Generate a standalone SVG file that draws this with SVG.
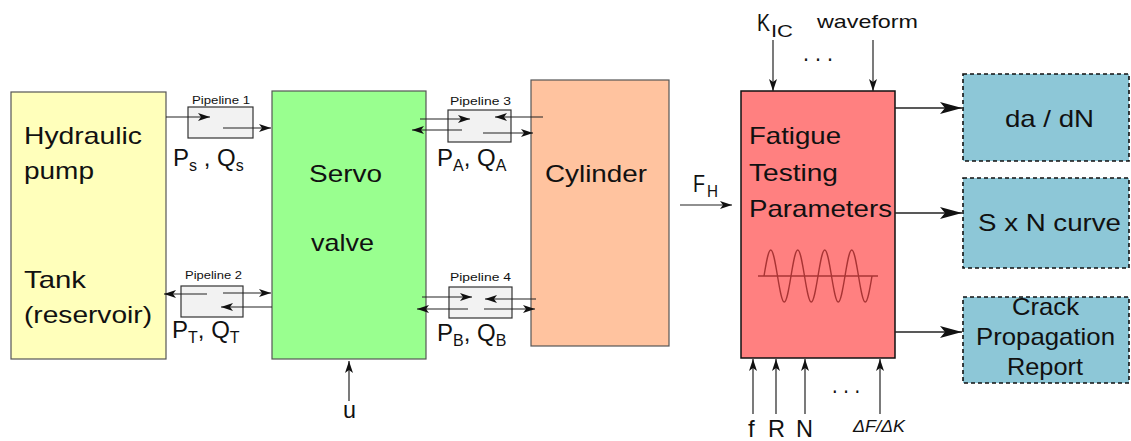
<svg xmlns="http://www.w3.org/2000/svg" width="1131" height="441" viewBox="0 0 1131 441">
<style>
text{font-family:"Liberation Sans",Arial,sans-serif;fill:#111}
.m{font-size:24px}
.s{font-size:16px}
.pl{font-size:11px}
.box{stroke:#555;stroke-width:1.2}
.pipe{fill:#f2f2f2;stroke:#333;stroke-width:1.2}
.ln{stroke:#222;stroke-width:1.2;fill:none}
.out{fill:#8dc7d7;stroke:#111;stroke-width:1.6;stroke-dasharray:4,3}
</style>
<defs>
<marker id="big" markerUnits="userSpaceOnUse" viewBox="0 0 22 12" refX="22" refY="6" markerWidth="22" markerHeight="12" orient="auto"><path d="M0,0 L22,6 L0,12 L5,6 z" fill="#111"/></marker>
<marker id="sm" markerUnits="userSpaceOnUse" viewBox="0 0 12 8" refX="12" refY="4" markerWidth="12" markerHeight="8" orient="auto"><path d="M0,0 L12,4 L0,8 L3,4 z" fill="#111"/></marker>
</defs>

<g id="pump">
<rect class="box" x="11" y="92" width="155" height="267" fill="#ffffbb" stroke="#999"/>
<text class="m" x="24" y="144" textLength="118" lengthAdjust="spacingAndGlyphs">Hydraulic</text>
<text class="m" x="24" y="179" textLength="70" lengthAdjust="spacingAndGlyphs">pump</text>
<text class="m" x="24" y="288" textLength="62" lengthAdjust="spacingAndGlyphs">Tank</text>
<text class="m" x="24" y="323" textLength="128" lengthAdjust="spacingAndGlyphs">(reservoir)</text>
</g>

<g id="servo">
<rect class="box" x="272" y="91" width="154" height="268" fill="#99ff8f"/>
<text class="m" x="309" y="182" textLength="73" lengthAdjust="spacingAndGlyphs">Servo</text>
<text class="m" x="311" y="251" textLength="63" lengthAdjust="spacingAndGlyphs">valve</text>
</g>

<g id="cylinder">
<rect class="box" x="531" y="80" width="138" height="266" fill="#ffc39f"/>
<text class="m" x="545" y="182" textLength="102" lengthAdjust="spacingAndGlyphs">Cylinder</text>
</g>

<g id="fatigue">
<rect x="741" y="91" width="154" height="267" fill="#ff8080" stroke="#111" stroke-width="1.5"/>
<text class="m" x="749" y="144" textLength="92" lengthAdjust="spacingAndGlyphs">Fatigue</text>
<text class="m" x="749" y="181" textLength="89" lengthAdjust="spacingAndGlyphs">Testing</text>
<text class="m" x="749" y="217" textLength="143" lengthAdjust="spacingAndGlyphs">Parameters</text>
<line x1="758" y1="276" x2="878" y2="276" stroke="#a83434" stroke-width="1.6"/>
<path d="M764,276 c2.256,-13.65 4.32,-26 6.75,-26 c2.43,0 4.494,12.35 6.75,26 c2.256,13.65 4.32,26 6.75,26 c2.43,0 4.494,-12.35 6.75,-26 c2.256,-13.65 4.32,-26 6.75,-26 c2.43,0 4.494,12.35 6.75,26 c2.256,13.65 4.32,26 6.75,26 c2.43,0 4.494,-12.35 6.75,-26 c2.256,-13.65 4.32,-26 6.75,-26 c2.43,0 4.494,12.35 6.75,26 c2.256,13.65 4.32,26 6.75,26 c2.43,0 4.494,-12.35 6.75,-26 c2.256,-13.65 4.32,-26 6.75,-26 c2.43,0 4.494,12.35 6.75,26 c2.256,13.65 4.32,26 6.75,26 c2.43,0 4.494,-12.35 6.75,-26" fill="none" stroke="#a83434" stroke-width="1.4"/>
</g>

<g id="pipeline1">
<rect class="pipe" x="188" y="107" width="65" height="31"/>
<text class="pl" x="192" y="104" textLength="58" lengthAdjust="spacingAndGlyphs">Pipeline 1</text>
<text class="m" x="173" y="166">P<tspan class="s" dy="5">s</tspan><tspan dy="-5"> , Q</tspan><tspan class="s" dy="5">s</tspan></text>
</g>
<g id="pipeline2">
<rect class="pipe" x="181" y="286" width="62" height="31"/>
<text class="pl" x="185" y="279" textLength="57" lengthAdjust="spacingAndGlyphs">Pipeline 2</text>
<text class="m" x="172" y="338">P<tspan class="s" dy="5">T</tspan><tspan dy="-5">, Q</tspan><tspan class="s" dy="5">T</tspan></text>
</g>
<g id="pipeline3">
<rect class="pipe" x="448" y="110" width="63" height="32"/>
<text class="pl" x="450" y="105" textLength="61" lengthAdjust="spacingAndGlyphs">Pipeline 3</text>
<text class="m" x="437" y="166">P<tspan class="s" dy="5">A</tspan><tspan dy="-5">, Q</tspan><tspan class="s" dy="5">A</tspan></text>
</g>
<g id="pipeline4">
<rect class="pipe" x="449" y="287" width="63" height="31"/>
<text class="pl" x="450" y="281" textLength="61" lengthAdjust="spacingAndGlyphs">Pipeline 4</text>
<text class="m" x="437" y="341">P<tspan class="s" dy="5">B</tspan><tspan dy="-5">, Q</tspan><tspan class="s" dy="5">B</tspan></text>
</g>

<g id="out1"><rect class="out" x="963" y="74" width="166" height="87"/>
<text class="m" x="1005" y="127" textLength="89" lengthAdjust="spacingAndGlyphs">da / dN</text></g>
<g id="out2"><rect class="out" x="963" y="178" width="166" height="90"/>
<text class="m" x="978" y="231" textLength="143" lengthAdjust="spacingAndGlyphs">S x N curve</text></g>
<g id="out3"><rect class="out" x="963" y="297" width="166" height="86"/>
<text class="m" x="1012" y="315" textLength="67" lengthAdjust="spacingAndGlyphs">Crack</text>
<text class="m" x="976" y="345" textLength="139" lengthAdjust="spacingAndGlyphs">Propagation</text>
<text class="m" x="1007" y="375" textLength="76" lengthAdjust="spacingAndGlyphs">Report</text></g>

<g id="labels">
<text class="m" x="757" y="31" textLength="13" lengthAdjust="spacingAndGlyphs">K</text>
<text class="s" x="771" y="37" textLength="22" lengthAdjust="spacingAndGlyphs">IC</text>
<text x="817" y="28" font-size="19" textLength="101" lengthAdjust="spacingAndGlyphs">waveform</text>
<text class="m" x="803" y="61" textLength="30" lengthAdjust="spacingAndGlyphs">. . .</text>
<text class="m" x="832" y="393" textLength="28" lengthAdjust="spacingAndGlyphs">. . .</text>
<text class="m" x="693" y="192" textLength="12" lengthAdjust="spacingAndGlyphs">F</text>
<text class="s" x="707" y="197" textLength="11" lengthAdjust="spacingAndGlyphs">H</text>
<text class="m" x="343" y="418" textLength="13" lengthAdjust="spacingAndGlyphs">u</text>
<text class="m" x="748" y="437">f</text>
<text class="m" x="768" y="437" textLength="17" lengthAdjust="spacingAndGlyphs">R</text>
<text class="m" x="796" y="437" textLength="17" lengthAdjust="spacingAndGlyphs">N</text>
<text x="853" y="432" font-size="16" font-family="'DejaVu Serif','Liberation Serif',serif" font-style="italic" textLength="52" lengthAdjust="spacingAndGlyphs">ΔF/ΔK</text>
</g>

<g id="connectors" class="ln">
<line x1="166" y1="117" x2="210" y2="117" marker-end="url(#sm)"/>
<line x1="223" y1="128" x2="271" y2="128" marker-end="url(#sm)"/>
<line x1="207" y1="294" x2="164" y2="294" marker-end="url(#sm)"/>
<line x1="223" y1="293" x2="271" y2="293" marker-end="url(#sm)"/>
<line x1="272" y1="307" x2="221" y2="307" marker-end="url(#sm)"/>
<line x1="420" y1="119" x2="470" y2="119" marker-end="url(#sm)"/>
<line x1="462" y1="130" x2="412" y2="130" marker-end="url(#sm)"/>
<line x1="543" y1="117" x2="495" y2="117" marker-end="url(#sm)"/>
<line x1="483" y1="133" x2="533" y2="133" marker-end="url(#sm)"/>
<line x1="422" y1="297" x2="472" y2="297" marker-end="url(#sm)"/>
<line x1="536" y1="299" x2="485" y2="299" marker-end="url(#sm)"/>
<line x1="468" y1="309" x2="417" y2="309" marker-end="url(#sm)"/>
<line x1="484" y1="309" x2="535" y2="309" marker-end="url(#sm)"/>
<line x1="680" y1="205" x2="732" y2="205" marker-end="url(#sm)"/>
<line x1="349" y1="401" x2="349" y2="361" marker-end="url(#sm)"/>
<line x1="773" y1="40" x2="773" y2="91" marker-end="url(#sm)"/>
<line x1="873" y1="40" x2="873" y2="91" marker-end="url(#sm)"/>
<line x1="753" y1="414" x2="753" y2="359" marker-end="url(#sm)"/>
<line x1="776" y1="414" x2="776" y2="359" marker-end="url(#sm)"/>
<line x1="805" y1="414" x2="805" y2="359" marker-end="url(#sm)"/>
<line x1="880" y1="414" x2="880" y2="359" marker-end="url(#sm)"/>
<line x1="895" y1="108" x2="962" y2="108" stroke-width="1.5" marker-end="url(#big)"/>
<line x1="895" y1="213" x2="962" y2="213" stroke-width="1.5" marker-end="url(#big)"/>
<line x1="895" y1="332" x2="962" y2="332" stroke-width="1.5" marker-end="url(#big)"/>
</g>
</svg>
